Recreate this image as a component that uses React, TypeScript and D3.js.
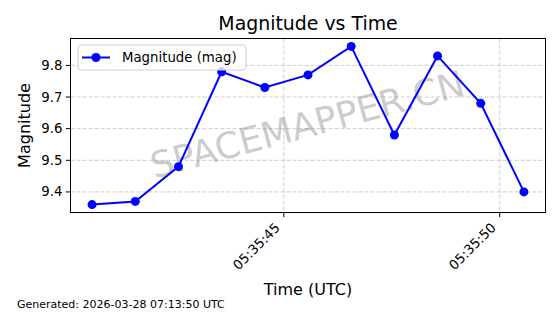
import React from "react";
import * as d3 from "d3";

const times = [
  "2026-03-28T05:35:40.560Z",
  "2026-03-28T05:35:41.560Z",
  "2026-03-28T05:35:42.560Z",
  "2026-03-28T05:35:43.560Z",
  "2026-03-28T05:35:44.560Z",
  "2026-03-28T05:35:45.560Z",
  "2026-03-28T05:35:46.560Z",
  "2026-03-28T05:35:47.560Z",
  "2026-03-28T05:35:48.560Z",
  "2026-03-28T05:35:49.560Z",
  "2026-03-28T05:35:50.560Z",
];
const magnitudes = [9.36, 9.37, 9.48, 9.78, 9.73, 9.77, 9.86, 9.58, 9.83, 9.68, 9.4];
const xTicks = ["2026-03-28T05:35:45Z", "2026-03-28T05:35:50Z"];
const yTicks = [9.4, 9.5, 9.6, 9.7, 9.8];

const W = 560;
const H = 314;
const left = 70.5;
const right = 545.5;
const top = 38.5;
const bottom = 212.5;
const FONT = "DejaVu Sans, sans-serif";

export default function App() {
  const dates = times.map((t) => new Date(t));
  const tMin = +dates[0];
  const tMax = +dates[dates.length - 1];
  const padX = (tMax - tMin) * 0.05;
  const x = d3.scaleTime().domain([new Date(tMin - padX), new Date(tMax + padX)]).range([left, right]);
  const yMin = d3.min(magnitudes)!;
  const yMax = d3.max(magnitudes)!;
  const padY = (yMax - yMin) * 0.05;
  const y = d3.scaleLinear().domain([yMin - padY, yMax + padY]).range([bottom, top]);
  const fmt = d3.utcFormat("%H:%M:%S");
  const line = d3
    .line<number>()
    .x((_, i) => x(dates[i]))
    .y((d) => y(d));

  const grid = { stroke: "#b0b0b0", strokeWidth: 0.9, strokeDasharray: "4,2", opacity: 0.7 };

  return (
    <svg width={W} height={H} style={{ position: "absolute", left: 0, top: 0 }} fontFamily={FONT}>
      <rect x={0} y={0} width={W} height={H} fill="#fff" />
      {yTicks.map((t) => (
        <line key={"gy" + t} x1={left} x2={right} y1={y(t)} y2={y(t)} {...grid} />
      ))}
      {xTicks.map((t) => (
        <line key={"gx" + t} x1={x(new Date(t))} x2={x(new Date(t))} y1={top} y2={bottom} {...grid} />
      ))}
      <text
        x={308}
        y={127}
        fontSize={36}
        fill="#999"
        fillOpacity={0.5}
        textAnchor="middle"
        dominantBaseline="middle"
        transform="rotate(-15 308 127)"
      >
        SPACEMAPPER.CN
      </text>
      <path d={line(magnitudes) ?? ""} fill="none" stroke="#0000ff" strokeWidth={2} />
      {magnitudes.map((m, i) => (
        <circle key={i} cx={x(dates[i])} cy={y(m)} r={4.5} fill="#0000ff" />
      ))}
      <rect x={left} y={top} width={right - left} height={bottom - top} fill="none" stroke="#000" strokeWidth={1} />
      {yTicks.map((t) => (
        <g key={"yt" + t}>
          <line x1={left - 4.7} x2={left} y1={y(t)} y2={y(t)} stroke="#000" />
          <text x={left - 8} y={y(t)} fontSize={13.3} textAnchor="end" dominantBaseline="central">
            {t.toFixed(1)}
          </text>
        </g>
      ))}
      {xTicks.map((t) => {
        const px = x(new Date(t));
        return (
          <g key={"xt" + t}>
            <line x1={px} x2={px} y1={bottom} y2={bottom + 4.7} stroke="#000" />
            <text
              fontSize={13.3}
              textAnchor="end"
              transform={`translate(${px - 3},${bottom + 16}) rotate(-45)`}
            >
              {fmt(new Date(t))}
            </text>
          </g>
        );
      })}
      <text x={308} y={24} fontSize={18.9} textAnchor="middle" dominantBaseline="middle">
        Magnitude vs Time
      </text>
      <text x={308} y={295} fontSize={16} textAnchor="middle">
        Time (UTC)
      </text>
      <text
        fontSize={16}
        textAnchor="middle"
        transform={`translate(30,${(top + bottom) / 2}) rotate(-90)`}
      >
        Magnitude
      </text>
      <g>
        <rect x={78} y={45} width={168} height={25} rx={3} fill="#fff" fillOpacity={0.8} stroke="#d0d0d0" />
        <line x1={82} x2={110} y1={57.5} y2={57.5} stroke="#0000ff" strokeWidth={2} />
        <circle cx={96} cy={57.5} r={4.5} fill="#0000ff" />
        <text x={122} y={57.5} fontSize={13.3} dominantBaseline="central">
          Magnitude (mag)
        </text>
      </g>
      <text x={17} y={308} fontSize={11}>
        Generated: 2026-03-28 07:13:50 UTC
      </text>
    </svg>
  );
}
